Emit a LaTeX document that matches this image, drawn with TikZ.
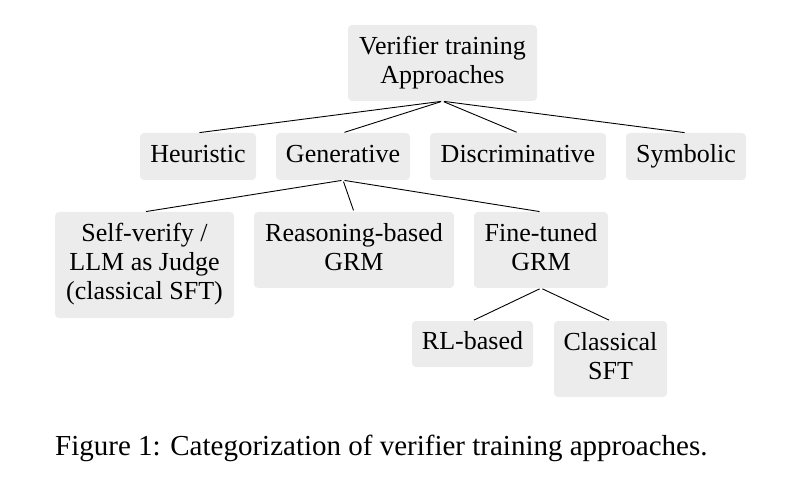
\documentclass[tikz,border=0pt]{standalone}
\usepackage{fontspec}
\setmainfont{Liberation Serif}
\definecolor{boxgray}{RGB}{236,236,236}
\begin{document}
\begin{tikzpicture}[x=1pt,y=-1pt,
  box/.style={fill=boxgray, rounded corners=4pt, align=center, inner sep=0pt,
    font=\fontsize{26}{29}\selectfont},
  link/.style={line width=0.9pt, black, shorten <=1.5pt, shorten >=1.5pt}]
\useasboundingbox (0,0) rectangle (795,494);
% level 1
\node[box, minimum width=189pt, minimum height=76pt] (root) at (442.5,63) {\strut Verifier training\\\strut Approaches};
% level 2
\node[box, minimum width=116pt, minimum height=47pt] (heur) at (198,156.5) {\strut Heuristic};
\node[box, minimum width=134pt, minimum height=47pt] (gen) at (343,156.5) {\strut Generative};
\node[box, minimum width=176pt, minimum height=47pt] (disc) at (518,156.5) {\strut Discriminative};
\node[box, minimum width=120pt, minimum height=47pt] (sym) at (686,156.5) {\strut Symbolic};
% level 3
\node[box, minimum width=179pt, minimum height=106pt] (self) at (144.5,265) {\strut Self-verify /\\\strut LLM as Judge\\\strut (classical SFT)};
\node[box, minimum width=200pt, minimum height=76pt] (reas) at (354,250) {\strut Reasoning-based\\\strut GRM};
\node[box, minimum width=134pt, minimum height=76pt] (fine) at (541,250) {\strut Fine-tuned\\\strut GRM};
% level 4
\node[box, minimum width=121pt, minimum height=46pt] (rl) at (472.5,344) {\strut RL-based};
\node[box, minimum width=113pt, minimum height=76pt] (csft) at (610.5,359) {\strut Classical\\\strut SFT};
% connectors
\foreach \c in {heur,gen,disc,sym} \draw[link] (root.south) -- (\c.north);
\foreach \c in {self,reas,fine} \draw[link] (gen.south) -- (\c.north);
\foreach \c in {rl,csft} \draw[link] (fine.south) -- (\c.north);
% caption
\node[anchor=base west, inner sep=0pt, font=\fontsize{29}{34}\selectfont] (cap) at (55,455) {Figure 1: Categorization of verifier training approaches.};
\end{tikzpicture}
\end{document}
